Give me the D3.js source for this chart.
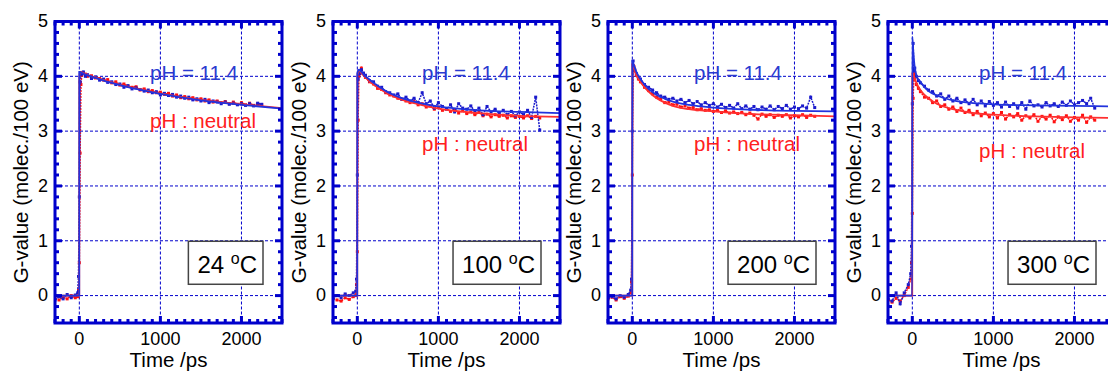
<!DOCTYPE html>
<html>
<head>
<meta charset="utf-8">
<script src="https://cdn.jsdelivr.net/npm/d3@7"></script>
<style>
  body { margin: 0; background: #fff; }
  text { font-family: "Liberation Sans", Arial, sans-serif; }
</style>
</head>
<body>
<svg id="chart" width="1108" height="371"></svg>
<script>
// Temperatures of the four panels
const temps = ["24", "100", "200", "300"];

// Measured time points (ps)
const tData = [-300, -250, -200, -150, -100, -50, -20, -10,
  0, 10, 20, 30, 50, 75, 100, 150, 200,
  250, 300, 350, 400, 450, 500, 550, 600, 650, 700, 750, 800, 850, 900, 950, 1000,
  1050, 1100, 1150, 1200, 1250, 1300, 1350, 1400, 1450, 1500, 1550, 1600, 1650, 1700,
  1750, 1800, 1850, 1900, 1950, 2000, 2050, 2100, 2150, 2200, 2250];

// pH = 11.4 (blue) measured G-values
const blue24 = [-0.08, -0.02, -0.06, 0.02, -0.04, 0.01, 0.05, 0.35,
  1.8, 3.9, 4.06, 4.04, 4.08, 4.0, 4.03, 3.96, 3.99,
  3.93, 3.95, 3.89, 3.9, 3.85, 3.86, 3.80, 3.83, 3.77, 3.79, 3.76, 3.73, 3.75, 3.70, 3.72, 3.66,
  3.69, 3.65, 3.67, 3.62, 3.64, 3.60, 3.62, 3.57, 3.59, 3.55, 3.58, 3.52, 3.55, 3.53,
  3.50, 3.53, 3.49, 3.51, 3.48, 3.50, 3.47, 3.50, 3.46, 3.51, 3.49];
const blue100 = [-0.06, 0.0, -0.04, 0.03, 0.0, 0.05, 0.08, 0.3,
  2.2, 3.95, 4.1, 4.05, 4.12, 4.06, 4.02, 3.92, 3.9,
  3.82, 3.80, 3.72, 3.70, 3.66, 3.68, 3.58, 3.62, 3.55, 3.60, 3.52, 3.70, 3.50, 3.55, 3.42, 3.52,
  3.45, 3.40, 3.48, 3.35, 3.50, 3.42, 3.40, 3.46, 3.36, 3.42, 3.30, 3.45, 3.35, 3.40,
  3.32, 3.38, 3.30, 3.36, 3.28, 3.35, 3.30, 3.38, 3.25, 3.62, 3.02];
const blue200 = [-0.04, -0.02, -0.06, 0.0, -0.03, 0.02, 0.1, 0.3,
  3.0, 4.28, 4.15, 4.12, 4.05, 3.98, 3.95, 3.85, 3.80,
  3.75, 3.70, 3.64, 3.62, 3.58, 3.60, 3.55, 3.58, 3.52, 3.56, 3.50, 3.54, 3.48, 3.52, 3.47, 3.50,
  3.44, 3.49, 3.43, 3.47, 3.42, 3.50, 3.41, 3.46, 3.40, 3.45, 3.39, 3.44, 3.40, 3.46,
  3.39, 3.45, 3.41, 3.47, 3.40, 3.44, 3.41, 3.46, 3.42, 3.62, 3.43];
const blue300 = [-0.05, -0.1, 0.05, -0.15, 0.05, 0.2, 0.4, 0.9,
  3.5, 4.6, 4.1, 4.15, 4.0, 3.92, 3.88, 3.82, 3.75,
  3.72, 3.64, 3.68, 3.58, 3.64, 3.55, 3.60, 3.52, 3.57, 3.50, 3.58, 3.48, 3.55, 3.46, 3.54, 3.47,
  3.52, 3.44, 3.53, 3.45, 3.50, 3.42, 3.52, 3.40, 3.55, 3.46, 3.48, 3.44, 3.52, 3.46,
  3.50, 3.45, 3.53, 3.47, 3.55, 3.48, 3.52, 3.56, 3.50, 3.60, 3.42];

// pH neutral (red) measured G-values
const red24 = [-0.05, -0.08, -0.03, -0.06, 0.0, -0.04, -0.02, 0.1,
  0.6, 2.6, 3.85, 4.02, 4.06, 4.04, 4.0, 4.01, 3.97,
  3.96, 3.93, 3.94, 3.88, 3.9, 3.84, 3.86, 3.82, 3.80, 3.81, 3.75, 3.77, 3.72, 3.74, 3.70, 3.71,
  3.67, 3.69, 3.64, 3.66, 3.61, 3.63, 3.59, 3.61, 3.57, 3.59, 3.55, 3.57, 3.53, 3.55,
  3.52, 3.54, 3.50, 3.53, 3.49, 3.52, 3.48, 3.51, 3.47, 3.50, 3.48];
const red100 = [-0.05, -0.08, -0.1, -0.04, -0.07, -0.02, 0.0, 0.2,
  0.8, 3.2, 4.0, 4.08, 4.15, 4.05, 3.98, 3.9, 3.86,
  3.78, 3.76, 3.70, 3.66, 3.64, 3.60, 3.58, 3.55, 3.52, 3.54, 3.48, 3.50, 3.44, 3.46, 3.40, 3.44,
  3.38, 3.41, 3.36, 3.39, 3.33, 3.37, 3.32, 3.35, 3.30, 3.34, 3.28, 3.31, 3.26, 3.30,
  3.27, 3.29, 3.24, 3.28, 3.25, 3.27, 3.24, 3.28, 3.23, 3.27, 3.24];
const red200 = [-0.06, -0.03, -0.08, -0.02, -0.05, -0.01, 0.05, 0.25,
  2.2, 4.2, 4.18, 4.1, 4.02, 3.95, 3.9, 3.8, 3.74,
  3.68, 3.62, 3.58, 3.52, 3.53, 3.48, 3.49, 3.44, 3.46, 3.42, 3.43, 3.39, 3.41, 3.38, 3.39, 3.36,
  3.38, 3.34, 3.37, 3.33, 3.35, 3.32, 3.34, 3.30, 3.33, 3.29, 3.22, 3.31, 3.27, 3.30,
  3.25, 3.29, 3.27, 3.30, 3.24, 3.28, 3.26, 3.30, 3.25, 3.29, 3.27];
const red300 = [-0.08, -0.12, -0.05, -0.1, 0.0, 0.15, 0.3, 0.6,
  1.5, 3.6, 4.05, 3.95, 3.85, 3.78, 3.72, 3.62, 3.6,
  3.52, 3.55, 3.45, 3.48, 3.40, 3.44, 3.36, 3.42, 3.34, 3.38, 3.30, 3.36, 3.28, 3.33, 3.26, 3.32,
  3.24, 3.34, 3.22, 3.30, 3.26, 3.32, 3.20, 3.28, 3.24, 3.30, 3.18, 3.27, 3.22, 3.29,
  3.17, 3.26, 3.21, 3.28, 3.18, 3.25, 3.20, 3.29, 3.16, 3.26, 3.20];

// Fitted curves
const fitT = [-300, -1, 0, 10, 20, 50, 100, 150, 200, 300, 400, 500, 700, 1000, 1500, 2000, 2500];
const blueFit24 = [0, 0, 4.08, 4.08, 4.07, 4.05, 4.02, 4.0, 3.97, 3.92, 3.88, 3.84, 3.77, 3.68, 3.56, 3.48, 3.41];
const redFit24 = [0, 0, 4.0, 4.08, 4.08, 4.06, 4.03, 4.0, 3.98, 3.93, 3.89, 3.85, 3.78, 3.69, 3.57, 3.49, 3.42];
const blueFit100 = [0, 0, 4.05, 4.1, 4.12, 4.08, 4.0, 3.94, 3.88, 3.78, 3.69, 3.63, 3.54, 3.45, 3.38, 3.35, 3.33];
const redFit100 = [0, 0, 4.0, 4.08, 4.1, 4.06, 3.98, 3.91, 3.85, 3.75, 3.67, 3.6, 3.51, 3.41, 3.33, 3.28, 3.26];
const blueFit200 = [0, 0, 4.28, 4.24, 4.2, 4.08, 3.95, 3.85, 3.77, 3.66, 3.59, 3.54, 3.48, 3.43, 3.39, 3.37, 3.36];
const redFit200 = [0, 0, 4.22, 4.19, 4.15, 4.02, 3.9, 3.8, 3.72, 3.6, 3.52, 3.46, 3.4, 3.36, 3.31, 3.29, 3.27];
const blueFit300 = [0, 0, 4.72, 4.5, 4.3, 4.02, 3.9, 3.8, 3.73, 3.65, 3.6, 3.56, 3.52, 3.49, 3.47, 3.46, 3.45];
const redFit300 = [0, 0, 4.05, 4.05, 4.0, 3.88, 3.75, 3.66, 3.6, 3.5, 3.44, 3.4, 3.34, 3.3, 3.27, 3.25, 3.24];

const blueData = [blue24, blue100, blue200, blue300];
const redData = [red24, red100, red200, red300];
const blueFits = [blueFit24, blueFit100, blueFit200, blueFit300];
const redFits = [redFit24, redFit100, redFit200, redFit300];

const xTicks = [0, 1000, 2000];
const yTicks = [0, 1, 2, 3, 4, 5];

// layout
const lefts = [55, 333, 608, 888];
const pw = 227, pTop = 21.5, pBottom = 323;
const labelX = [95, 89, 86, 91];          // text offset from panel left
const redLabelY = [127.5, 151, 151, 158];
const frameColor = "#0000cc";

const svg = d3.select("#chart");

temps.forEach((temp, i) => {
  const left = lefts[i], right = left + pw;
  const x = d3.scaleLinear().domain([-300, 2500]).range([left, right]);
  const y = d3.scaleLinear().domain([-0.5, 5]).range([pBottom, pTop]);

  const g = svg.append("g");
  const clipId = "clip" + i;
  g.append("clipPath").attr("id", clipId)
    .append("rect").attr("x", left).attr("y", pTop).attr("width", pw).attr("height", pBottom - pTop);

  // grid
  const grid = g.append("g").attr("stroke", frameColor).attr("stroke-width", 1)
    .attr("stroke-dasharray", "3,2");
  grid.selectAll(".gx").data(xTicks).join("line")
    .attr("x1", d => x(d)).attr("x2", d => x(d)).attr("y1", pTop).attr("y2", pBottom);
  grid.selectAll(".gy").data(yTicks.slice(0, 5)).join("line")
    .attr("x1", left).attr("x2", right).attr("y1", d => y(d)).attr("y2", d => y(d));

  const plot = g.append("g").attr("clip-path", `url(#${clipId})`);

  const line = d3.line().x(d => x(d[0])).y(d => y(d[1]));
  const fitLine = d3.line().x(d => x(d[0])).y(d => y(d[1])).curve(d3.curveMonotoneX);

  function drawData(vals, color) {
    const pts = tData.map((t, k) => [t, vals[k]]);
    plot.append("path").datum(pts).attr("d", line)
      .attr("fill", "none").attr("stroke", color).attr("stroke-width", 1.5)
      .attr("stroke-dasharray", "2,1");
    plot.append("g").selectAll("rect").data(pts).join("rect")
      .attr("x", d => x(d[0]) - 1.5).attr("y", d => y(d[1]) - 1.5)
      .attr("width", 3).attr("height", 3).attr("fill", color);
  }
  function drawFit(vals, color) {
    plot.append("path").datum(fitT.map((t, k) => [t, vals[k]])).attr("d", fitLine)
      .attr("fill", "none").attr("stroke", color).attr("stroke-width", 1.8);
  }
  drawData(redData[i], "#ff1010");
  drawData(blueData[i], "#1a1acc");
  drawFit(redFits[i], "#ff3030");
  drawFit(blueFits[i], "#2233dd");

  // frame
  g.append("rect").attr("x", left).attr("y", pTop).attr("width", pw).attr("height", pBottom - pTop)
    .attr("fill", "none").attr("stroke", frameColor).attr("stroke-width", 3);

  // ticks on all four sides, pointing inward
  const tk = g.append("g").attr("stroke", frameColor).attr("stroke-width", 3);
  const xt = d3.range(-300, 2501, 100);
  tk.selectAll(".xb").data(xt).join("line")
    .attr("x1", d => x(d)).attr("x2", d => x(d))
    .attr("y1", pBottom).attr("y2", d => pBottom - (d % 1000 === 0 ? 7 : 4));
  tk.selectAll(".xt").data(xt).join("line")
    .attr("x1", d => x(d)).attr("x2", d => x(d))
    .attr("y1", pTop).attr("y2", d => pTop + (d % 1000 === 0 ? 7 : 4));
  const yt = d3.range(-0.4, 5.01, 0.2).map(v => Math.round(v * 10) / 10);
  const major = v => Math.abs(v - Math.round(v)) < 1e-6;
  tk.selectAll(".yl").data(yt).join("line")
    .attr("y1", d => y(d)).attr("y2", d => y(d))
    .attr("x1", left).attr("x2", d => left + (major(d) ? 7 : 4));
  tk.selectAll(".yr").data(yt).join("line")
    .attr("y1", d => y(d)).attr("y2", d => y(d))
    .attr("x1", right).attr("x2", d => right - (major(d) ? 7 : 4));

  // tick labels
  g.selectAll(".xl").data(xTicks).join("text")
    .attr("x", d => x(d)).attr("y", pBottom + 22).attr("text-anchor", "middle")
    .attr("font-size", 18).text(d => d);
  g.selectAll(".ylab").data(yTicks).join("text")
    .attr("x", left - 7).attr("y", d => y(d)).attr("dy", "0.32em").attr("text-anchor", "end")
    .attr("font-size", 18).text(d => d);

  // axis titles
  g.append("text").attr("x", (left + right) / 2).attr("y", 366.5).attr("text-anchor", "middle")
    .attr("font-size", 20.5).text("Time /ps");
  g.append("text").attr("transform", `translate(${left - 34},${(pTop + pBottom) / 2}) rotate(-90)`)
    .attr("text-anchor", "middle").attr("dy", "0.35em").attr("font-size", 20.5)
    .text("G-value (molec./100 eV)");

  // series labels
  g.append("text").attr("x", left + labelX[i]).attr("y", 79.5).attr("font-size", 20.5)
    .attr("fill", "#2a3ad0").text("pH = 11.4");
  g.append("text").attr("x", left + labelX[i]).attr("y", redLabelY[i]).attr("font-size", 20.5)
    .attr("fill", "#ff2020").text("pH : neutral");

  // temperature box
  const boxRight = right - 19, boxTop = y(1) + 0.5, boxH = 43;
  const tbox = g.append("g");
  const rect = tbox.append("rect").attr("y", boxTop).attr("height", boxH)
    .attr("fill", "#fff").attr("stroke", "#444").attr("stroke-width", 1.5);
  const txt = tbox.append("text").attr("y", boxTop + 32).attr("font-size", 24).attr("fill", "#000");
  txt.append("tspan").text(temp + " ");
  txt.append("tspan").attr("font-size", 16).attr("dy", -9).text("o");
  txt.append("tspan").attr("dy", 9).text("C");
  const w = txt.node().getComputedTextLength();
  const boxW = w + 15;
  rect.attr("x", boxRight - boxW).attr("width", boxW);
  txt.attr("x", boxRight - boxW + 9);
});
</script>
</body>
</html>
